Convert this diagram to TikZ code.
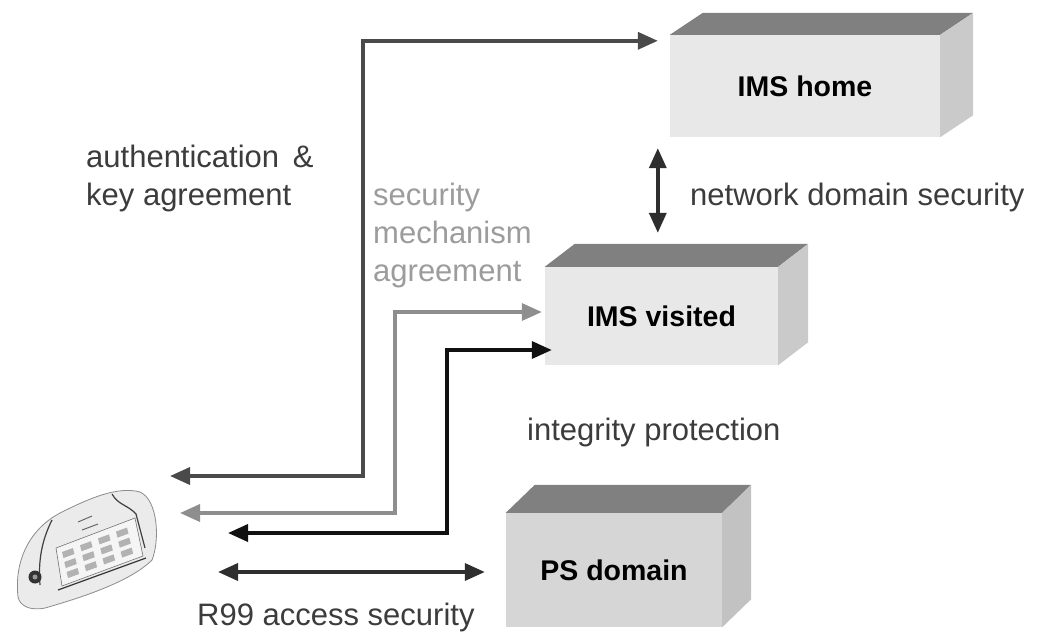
\documentclass[tikz,border=0pt]{standalone}
\usepackage{fontspec}
\setmainfont{Liberation Sans}
\usetikzlibrary{arrows.meta,calc}
\definecolor{frontA}{HTML}{E8E8E8}
\definecolor{frontB}{HTML}{D6D6D6}
\definecolor{topface}{HTML}{808080}
\definecolor{sideA}{HTML}{CACACA}
\definecolor{sideB}{HTML}{C2C2C2}
\definecolor{authc}{HTML}{4A4A4A}
\definecolor{smac}{HTML}{8E8E8E}
\definecolor{intc}{HTML}{111111}
\definecolor{ndsc}{HTML}{2E2E2E}
\definecolor{txtc}{HTML}{3C3C3C}
\definecolor{smatxt}{HTML}{9C9C9C}
\tikzset{
  boxfront/.style={rectangle, inner sep=0pt, fill=frontA,
    font=\bfseries\fontsize{28.5}{34}\selectfont, text=black},
  label/.style={inner sep=0pt, anchor=base west, text=txtc,
    font=\fontsize{31}{38}\selectfont, align=left},
  link/.style={line width=3.5pt, line join=miter,
    arrows={Triangle[length=20pt,width=17pt]-Triangle[length=20pt,width=17pt]}},
}
% front face as a node, plus top and right faces for depth
\newcommand{\depthfaces}[4]{% node, dx, dy, side colour
  \fill[topface] (#1.north west) -- ++(#2,-#3) -- ($(#1.north east)+(#2,-#3)$) -- (#1.north east) -- cycle;
  \fill[#4] (#1.north east) -- ++(#2,-#3) -- ($(#1.south east)+(#2,-#3)$) -- (#1.south east) -- cycle;
}
\begin{document}
\begin{tikzpicture}[x=1pt,y=-1pt]
\useasboundingbox[fill=white] (0,0) rectangle (1046,637);

% network elements
\node[boxfront, minimum width=270pt, minimum height=102pt] (home) at (805,86) {IMS home};
\depthfaces{home}{33}{22}{sideA}
\node[boxfront, minimum width=233pt, minimum height=98pt] (visited) at (661.5,316) {IMS visited};
\depthfaces{visited}{30}{23}{sideA}
\node[boxfront, fill=frontB, minimum width=216pt, minimum height=114pt] (ps) at (614,570) {PS domain};
\depthfaces{ps}{29}{28}{sideB}

% user equipment
\node[minimum width=145pt, minimum height=120pt, inner sep=0pt] (ue) at (87,550) {};
\begin{scope}
  \fill[black!8] (18,597) .. controls (14,560) and (30,528) .. (62,512)
     .. controls (90,498) and (118,486) .. (140,492)
     .. controls (158,500) and (160,540) .. (152,560)
     .. controls (130,582) and (80,598) .. (45,608)
     .. controls (30,611) and (20,606) .. (18,597) -- cycle;
  \draw[black!45, line width=0.8pt] (18,597) .. controls (14,560) and (30,528) .. (62,512)
     .. controls (90,498) and (118,486) .. (140,492)
     .. controls (158,500) and (160,540) .. (152,560)
     .. controls (130,582) and (80,598) .. (45,608)
     .. controls (30,611) and (20,606) .. (18,597) -- cycle;
  \draw[black!75, line width=1.2pt] (52,520) .. controls (42,540) and (38,560) .. (40,585);
  \draw[black!75, line width=1.2pt] (112,494) .. controls (118,505) and (128,505) .. (136,514) -- (145,548);
  \fill[black!4] (56,548) -- (135,518) -- (143,556) -- (62,586) -- cycle;
  \draw[black!80, line width=1.2pt] (58,590) -- (146,558);
  \draw[black!55, line width=0.6pt] (56,548) -- (135,518) -- (143,556) -- (62,586) -- cycle;
  \foreach \i in {0,1,2,3} {
    \foreach \j in {0,1,2} {
      \fill[black!30] ($(62,552)+(\i*18,-\i*6.8)+(\j*2.3,\j*10)$) -- ++(11,-4) -- ++(1.5,6) -- ++(-11,4) -- cycle;
    }
  }
  \draw[black!60, line width=1pt] (78,522) -- (92,516);
  \draw[black!60, line width=1pt] (82,530) -- (98,524);
  \fill[black!80] (35,577) circle (6.5);
  \fill[black!40] (35,577) circle (2.5);
\end{scope}

% connector ends at the user equipment
\coordinate (ua) at (170,476);
\coordinate (us) at (180,513);
\coordinate (ui) at (228,533);
\coordinate (ur) at (218,572);

% connectors
\draw[link, authc] (ua) -- (363,476) |- ($(home.north west)+(-12,6)$);
\draw[link, smac] (us) -- (395,513) |- ($(visited.west)+(-3,-4)$);
\draw[link, intc] (ui) -- (447,533) |- ($(visited.west)+(7,34)$);
\draw[link, ndsc] ($(home.south west)+(-12,11)$) -- ($(visited.north west)+(113,-34)$);
\draw[link, ndsc] (ur) -- ($(ps.west)+(-21,2)$);

% labels (base anchor sits on the last line)
\node[label] (auth) at (86,205) {authentication \,\&\\key agreement};
\node[label, text=smatxt] (sma) at (373,281) {security\\mechanism\\agreement};
\node[label] (nds) at (690,205) {network domain security};
\node[label] (integ) at (527,440) {integrity protection};
\node[label] (r99) at (197,625) {R99 access security};
\end{tikzpicture}
\end{document}
